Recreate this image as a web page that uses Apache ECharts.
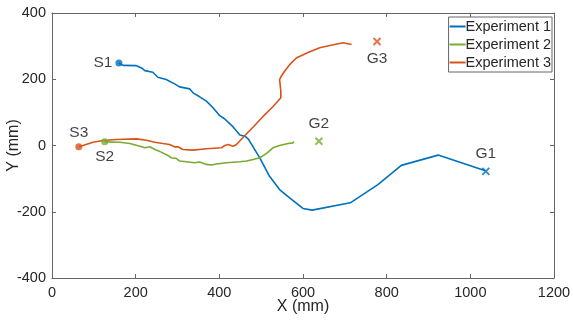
<!DOCTYPE html>
<html><head><meta charset="utf-8">
<script src="https://cdn.jsdelivr.net/npm/echarts@6/dist/echarts.min.js"></script>
<style>html,body{margin:0;padding:0;background:#fff}#c{width:573px;height:321px}</style>
</head><body><div id="c"></div>
<script>
const seriesNames = ['Experiment 1', 'Experiment 2', 'Experiment 3'];
const exp1 = [[160,249],[170,242],[202,241],[214,234],[222,226],[241,221],[253,206],[273,199],[293,186],[305,177],[329,171],[337,159],[353,147],[369,134],[385,114],[401,90],[413,80],[433,56],[449,32],[461,28],[469,20],[497,-38],[520,-93],[544,-133],[568,-158],[600,-190],[622,-195],[713,-173],[779,-118],[835,-60],[923,-29],[1036,-76]];
const exp2 = [[126,11],[162,10],[186,6],[210,-2],[222,-7],[234,-4],[246,-12],[261,-20],[277,-30],[285,-37],[297,-39],[305,-47],[321,-49],[341,-52],[353,-50],[369,-57],[381,-59],[393,-56],[417,-52],[449,-49],[465,-47],[481,-42],[497,-37],[513,-24],[528,-7],[544,0],[564,6],[576,8],[578,12]];
const exp3 = [[64,-4],[74,0],[98,10],[122,15],[154,18],[202,20],[226,16],[246,10],[265,6],[281,3],[293,-4],[301,-4],[313,-12],[337,-14],[369,-10],[405,-7],[413,0],[421,3],[433,-2],[441,3],[461,30],[481,56],[504,87],[528,117],[547,144],[547,164],[544,199],[548,209],[556,224],[568,244],[584,264],[612,281],[640,295],[664,302],[696,310],[704,308],[716,305]];
const startNames = ['S1', 'S2', 'S3'];
const startPoints = [[160,249],[126,11],[64,-4]];
const goalNames = ['G1', 'G2', 'G3'];
const goalPoints = [[1037,-78],[638,13],[777,314]];
const xTicks = {min: 0, max: 1200, interval: 200};
const yTicks = {min: -400, max: 400, interval: 200};

const colors = ['#0072BD', '#77AC30', '#D95319'];
const paths = [exp1, exp2, exp3];
const startLabelPos = ['left', 'bottom', 'top'];
const goalLabelPos = ['top', 'top', 'bottom'];
const FONT = 'Liberation Sans, Arial, Helvetica, sans-serif';
const axisCol = '#666';
const textCol = '#262626';

const series = [];
paths.forEach((p, i) => {
  series.push({
    name: seriesNames[i], type: 'line', data: p, showSymbol: false, symbol: 'none',
    lineStyle: {color: colors[i], width: 1.6}, itemStyle: {color: colors[i]},
    z: 2, animation: false
  });
});
paths.forEach((p, i) => {
  series.push({
    type: 'scatter', data: [startPoints[i]], symbol: 'circle', symbolSize: 7,
    itemStyle: {color: colors[i]}, z: 3, animation: false,
    label: {show: true, formatter: startNames[i], position: startLabelPos[i], distance: 3,
      color: '#111', fontSize: 15.5, fontFamily: FONT}
  });
  series.push({
    type: 'scatter', data: [goalPoints[i]], symbol: 'path://M0,0L10,10M10,0L0,10', symbolSize: 7,
    itemStyle: {color: 'transparent', borderColor: colors[i], borderWidth: 2}, z: 3, animation: false,
    label: {show: true, formatter: goalNames[i], position: goalLabelPos[i], distance: 5,
      color: '#111', fontSize: 15.5, fontFamily: FONT}
  });
});

const baseAxis = {
  type: 'value', splitLine: {show: false},
  axisLine: {show: true, onZero: false, lineStyle: {color: axisCol, width: 1}},
  axisTick: {show: true, inside: true, length: 4, lineStyle: {color: axisCol}},
};
const plain = v => String(v);

const chart = echarts.init(document.getElementById('c'), null, {renderer: 'canvas'});
chart.setOption({
  animation: false,
  backgroundColor: '#fff',
  grid: {left: 52, right: 19, top: 13, bottom: 43, containLabel: false, outerBoundsMode: 'none'},
  legend: {
    data: seriesNames, orient: 'vertical', right: 21, top: 17,
    icon: 'rect', itemWidth: 16, itemHeight: 2, itemGap: 3,
    backgroundColor: '#fff', borderColor: axisCol, borderWidth: 1, padding: [2, 1, 2, 1],
    textStyle: {fontSize: 14.5, fontFamily: FONT, color: textCol, padding: [0, 0, 0, -5]}
  },
  xAxis: [
    Object.assign({}, baseAxis, {min: xTicks.min, max: xTicks.max, interval: xTicks.interval,
      name: 'X (mm)', nameLocation: 'middle', nameGap: 21, nameMoveOverlap: false,
      nameTextStyle: {fontSize: 16, fontFamily: FONT, color: textCol},
      axisLabel: {fontSize: 14.5, fontFamily: FONT, color: textCol, margin: 7, formatter: plain}}),
    Object.assign({}, baseAxis, {position: 'top', min: xTicks.min, max: xTicks.max, interval: xTicks.interval,
      axisLabel: {show: false}})
  ],
  yAxis: [
    Object.assign({}, baseAxis, {min: yTicks.min, max: yTicks.max, interval: yTicks.interval,
      name: 'Y (mm)', nameLocation: 'middle', nameGap: 30, nameRotate: 90, nameMoveOverlap: false,
      nameTextStyle: {fontSize: 16, fontFamily: FONT, color: textCol},
      axisLabel: {fontSize: 14.5, fontFamily: FONT, color: textCol, margin: 6, formatter: plain}}),
    Object.assign({}, baseAxis, {position: 'right', min: yTicks.min, max: yTicks.max, interval: yTicks.interval,
      axisLabel: {show: false}})
  ],
  series: series
});
</script></body></html>
